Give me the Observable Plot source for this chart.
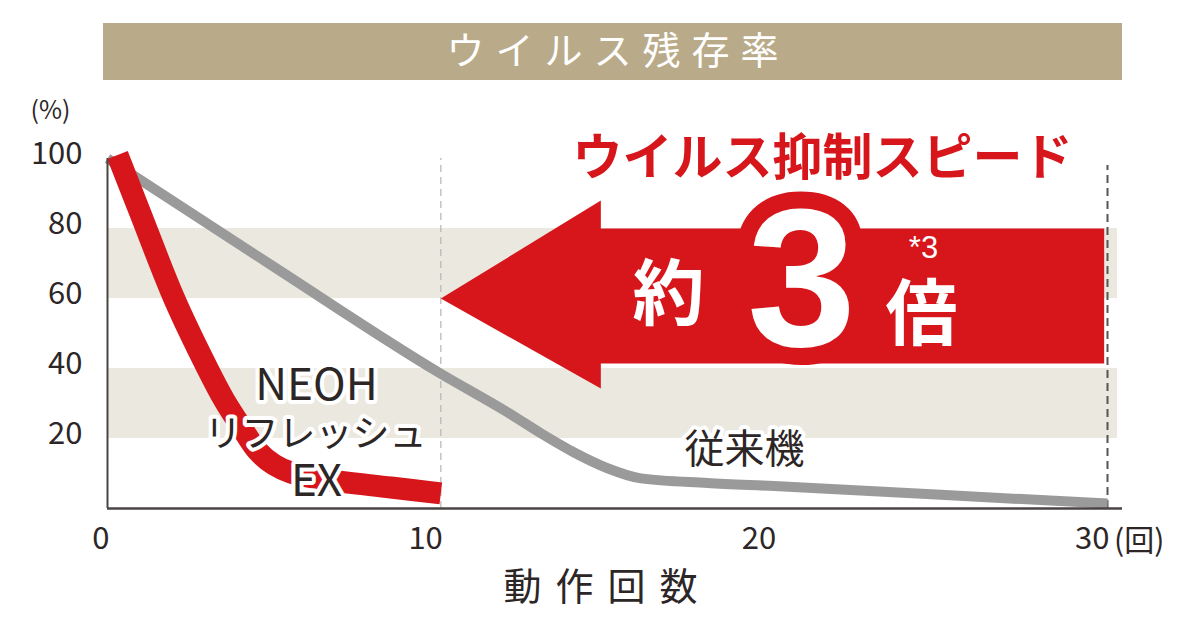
<!DOCTYPE html>
<html>
<head>
<meta charset="utf-8">
<script src="https://cdn.jsdelivr.net/npm/d3@7"></script>
<script src="https://cdn.jsdelivr.net/npm/@observablehq/plot@0.6"></script>
<style>
  html, body { margin: 0; padding: 0; background: #fff; }
  #title {
    margin: 23px 0 0 103px; width: 1019px; height: 57px;
    background: #b9ab89; color: #fff;
    font-family: 'Noto Sans CJK JP', sans-serif; font-size: 38px; font-weight: 400;
    letter-spacing: 11px; text-indent: 11px;
    display: flex; align-items: center; justify-content: center;
    line-height: 1; padding-bottom: 7px; box-sizing: border-box;
  }
  #chart svg { display: block; }
</style>
</head>
<body>
<div id="title">ウイルス残存率</div>
<div id="chart"></div>
<script>
// ---- data ----
const neohX = [0.3, 1, 2, 3, 3.5, 4, 4.5, 5, 5.5, 6.5, 8.5, 10];
const neohY = [101, 84, 60, 40, 31, 23.5, 16.5, 12.5, 10.3, 8.3, 6, 4.3];
const convX = [0, 5, 10, 12, 13, 14, 15, 16, 18, 20, 25, 30];
const convY = [100, 69, 38.5, 27.5, 21.5, 16, 11.5, 8.6, 7.3, 6.4, 3.9, 1.4];
const bandLow = [20, 60];
const bandHigh = [40, 80];
const arrowX = [10, 14.8, 14.8, 29.9, 29.9, 14.8, 14.8, 10];
const arrowY = [60, 88, 80, 80, 41.4, 41.4, 34.3, 60];
const yTicks = [20, 40, 60, 80, 100];
const xTicks = [0, 10, 20, 30];
const markers = [10, 30];

const neoh = neohX.map((x, i) => ({x, y: neohY[i]}));
const conv = convX.map((x, i) => ({x, y: convY[i]}));
const bands = bandLow.map((lo, i) => ({lo, hi: bandHigh[i]}));
const arrow = arrowX.map((x, i) => ({x, y: arrowY[i]}));

const RED = "#d7161c";
const INK = "#2d2626";
const JP = "'Noto Sans CJK JP', sans-serif";
const halo = {fill: INK, stroke: "#fff", strokeWidth: 8, strokeLinejoin: "round", paintOrder: "stroke"};

const plot = Plot.plot({
  width: 1200, height: 550,
  marginTop: 78, marginBottom: 122, marginLeft: 107, marginRight: 93,
  x: {domain: [0, 30], axis: null},
  y: {domain: [0, 100], axis: null},
  style: {fontFamily: JP, color: INK, background: "transparent", overflow: "visible"},
  marks: [
    Plot.rectY(bands, {x1: 0, x2: 30.3, y1: "lo", y2: "hi", fill: "#ebe8e0"}),
    Plot.ruleX([markers[0]], {y1: 0, y2: 100, stroke: "#b5b5b5", strokeWidth: 1.2, strokeDasharray: "7,5"}),
    Plot.ruleX([markers[1]], {y1: 0, y2: 98, stroke: "#555", strokeWidth: 2, strokeDasharray: "8,5"}),
    Plot.line(conv, {x: "x", y: "y", curve: "monotone-x", stroke: "#9a9a9a", strokeWidth: 10, strokeLinecap: "butt"}),
    Plot.line(neoh, {x: "x", y: "y", curve: "catmull-rom", stroke: RED, strokeWidth: 22, strokeLinecap: "butt"}),
    Plot.line(arrow, {x: "x", y: "y", fill: RED, stroke: "none"}),
    Plot.ruleY([0], {x1: 0, x2: 30.45, stroke: "#4a4545", strokeWidth: 2.5}),
    Plot.ruleX([0], {y1: 0, y2: 100, stroke: "#4a4545", strokeWidth: 2}),
    Plot.text(yTicks, {x: 0, y: d => d, text: d => String(d), textAnchor: "end", dx: -25, dy: -4, fontSize: 31, fill: INK}),
    Plot.text(xTicks, {x: d => d, y: 0, text: d => String(d), textAnchor: "end", dx: 2, dy: 31, fontSize: 31, fill: INK}),
    Plot.text(["(%)"], {x: -1.71, y: 113.7, fontSize: 25, fill: INK}),
    Plot.text(["(回)"], {x: 30.95, y: -9.4, fontSize: 30, fill: INK}),
    Plot.text(["動作回数"], {x: 14.82, y: -22.6, dx: 6, fontSize: 38, fill: INK}),
    Plot.text(["ウイルス抑制スピード"], {x: 21.45, y: 100, fontSize: 50, fontWeight: "bold", fill: RED}),
    Plot.text(["約"], {x: 16.83, y: 60.6, fontSize: 72, fontWeight: "bold", fill: "#fff"}),
    Plot.text(["3"], {x: 20.82, y: 64.3, fontSize: 196, fontWeight: "bold", fontFamily: "'Liberation Sans', Arial, sans-serif",
      fill: "#fff", stroke: RED, strokeWidth: 34, strokeLinejoin: "round", paintOrder: "stroke"}),
    Plot.text(["*3"], {x: 24.48, y: 74.5, fontSize: 31, fill: "#fff", fontFamily: "'Liberation Sans', Arial, sans-serif"}),
    Plot.text(["倍"], {x: 24.42, y: 55, fontSize: 72, fontWeight: "bold", fill: "#fff"}),
    Plot.text(["NEOH"], {x: 6.27, y: 34.9, fontSize: 44, ...halo}),
    Plot.text(["リフレッシュ"], {x: 6.24, y: 21, fontSize: 37, ...halo}),
    Plot.text(["EX"], {x: 6.27, y: 7.7, fontSize: 44, ...halo}),
    Plot.text(["従来機"], {x: 19.11, y: 16.6, fontSize: 40, ...halo})
  ]
});

d3.select(plot).selectAll("text").filter(function() { return this.textContent === "動作回数"; })
  .attr("letter-spacing", "14px");

document.getElementById("chart").appendChild(plot);
</script>
</body>
</html>
